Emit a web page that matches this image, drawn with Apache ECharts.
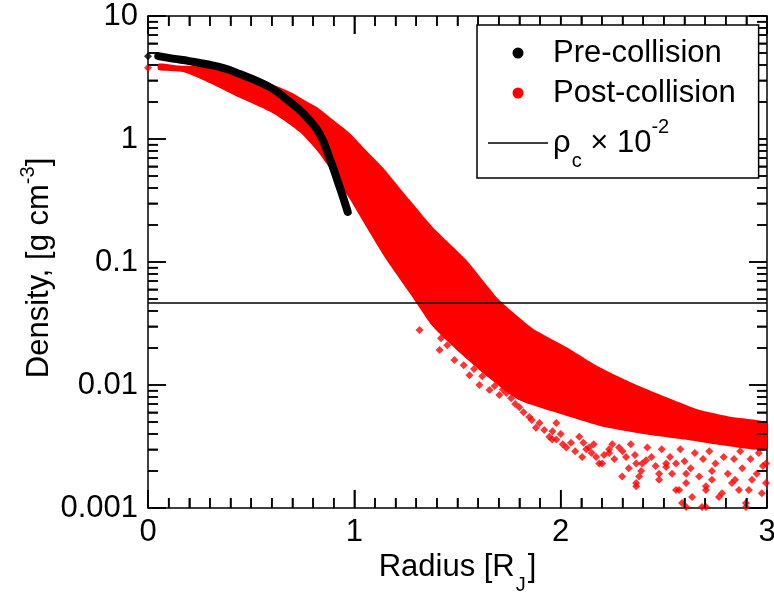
<!DOCTYPE html>
<html>
<head>
<meta charset="utf-8">
<script src="https://cdn.jsdelivr.net/npm/echarts@6/dist/echarts.min.js"></script>
<style>
html,body{margin:0;padding:0;background:#fff;}
#chart{width:774px;height:598px;}
</style>
</head>
<body>
<div id="chart"></div>
<script>
// ---- axis ticks ----
const xTicks = [0, 1, 2, 3];
const xTickLabels = ['0', '1', '2', '3'];
const xMinorTicks = [0.1, 0.2, 0.3, 0.4, 0.5, 0.6, 0.7, 0.8, 0.9, 1.1, 1.2, 1.3, 1.4, 1.5, 1.6, 1.7, 1.8, 1.9, 2.1, 2.2, 2.3, 2.4, 2.5, 2.6, 2.7, 2.8, 2.9];
const yTicks = [0.001, 0.01, 0.1, 1, 10];
const yTickLabels = ['0.001', '0.01', '0.1', '1', '10'];
const yMinorTicks = [0.002, 0.003, 0.004, 0.005, 0.006, 0.007, 0.008, 0.009,
  0.02, 0.03, 0.04, 0.05, 0.06, 0.07, 0.08, 0.09,
  0.2, 0.3, 0.4, 0.5, 0.6, 0.7, 0.8, 0.9,
  2, 3, 4, 5, 6, 7, 8, 9];

// ---- Pre-collision (black) ----
const preCentreR = [0];
const preCentreRho = [4.7];
const preR   = [0.05, 0.12, 0.20, 0.285, 0.37, 0.445, 0.53, 0.605, 0.687, 0.735, 0.77, 0.832, 0.88, 0.92, 0.947, 0.968];
const preRho = [4.72, 4.50, 4.30, 4.05, 3.75, 3.37, 2.95, 2.55, 2.00, 1.72, 1.50, 1.10, 0.70, 0.45, 0.33, 0.255];

// ---- Post-collision (red): dense band envelope ----
const postUpperR   = [0.05, 0.15, 0.285, 0.445, 0.575, 0.70, 0.77, 0.818, 0.90, 0.977, 1.06, 1.137, 1.268, 1.379, 1.543, 1.703, 1.863, 2.027, 2.187, 2.346, 2.51, 2.67, 2.83, 3.0];
const postUpperRho = [4.10, 3.95, 3.85, 3.25, 2.90, 2.37, 2.02, 1.82, 1.42, 1.12, 0.80, 0.59, 0.32, 0.193, 0.104, 0.049, 0.029, 0.0204, 0.014, 0.0104, 0.0080, 0.0063, 0.0055, 0.0049];
const postLowerR   = [0.05, 0.17, 0.285, 0.445, 0.605, 0.735, 0.82, 0.90, 0.98, 1.06, 1.156, 1.268, 1.379, 1.50, 1.65, 1.80, 2.0, 2.2, 2.4, 2.6, 2.8, 3.0];
const postLowerRho = [3.64, 3.50, 2.92, 2.16, 1.62, 1.14, 0.80, 0.52, 0.32, 0.19, 0.104, 0.056, 0.030, 0.019, 0.0115, 0.0075, 0.0058, 0.0046, 0.0040, 0.0036, 0.0032, 0.0030];

// ---- Post-collision (red): individual scattered particles ----
const postScatterR = [0, 1.316, 1.413, 1.42, 1.45, 1.485, 1.509, 1.53, 1.558, 1.58, 1.606, 1.62, 1.655, 1.68, 1.703, 1.72, 1.737, 1.76, 1.78,
  1.80, 1.82, 1.848, 1.86, 1.88, 1.897, 1.92, 1.945, 1.959, 1.96, 1.979, 1.979, 2.0, 2.01, 2.027, 2.05, 2.07,
  2.09, 2.104, 2.11, 2.124, 2.138, 2.15, 2.16, 2.172, 2.187, 2.201, 2.21, 2.235, 2.235, 2.25, 2.26, 2.283, 2.298, 2.30, 2.317, 2.33, 2.34,
  2.36, 2.366, 2.366, 2.366, 2.38, 2.39, 2.395, 2.414, 2.42, 2.44, 2.46,
  2.477, 2.477, 2.49, 2.511, 2.511, 2.53, 2.54, 2.559, 2.559, 2.574, 2.58, 2.588, 2.60, 2.608, 2.608, 2.608, 2.63, 2.637, 2.65, 2.671, 2.685, 2.69,
  2.704, 2.704, 2.704, 2.72, 2.733, 2.733, 2.75, 2.767, 2.782, 2.79, 2.81, 2.83, 2.84, 2.845, 2.864, 2.87, 2.88, 2.898, 2.898, 2.912, 2.92, 2.927,
  2.95, 2.96, 2.975, 2.98, 2.995, 2.995];
const postScatterRho = [3.8, 0.028, 0.0193, 0.024, 0.021, 0.016, 0.023, 0.0145, 0.012, 0.0135, 0.010, 0.0118, 0.0091, 0.0098, 0.0083, 0.0092, 0.0086, 0.0078, 0.0070,
  0.0066, 0.0060, 0.0055, 0.0052, 0.0045, 0.0049, 0.0043, 0.0038, 0.0036, 0.0042, 0.0036, 0.0049, 0.0040, 0.0033, 0.0031, 0.0034, 0.0029,
  0.0038, 0.0026, 0.0034, 0.0030, 0.0031, 0.0028, 0.0033, 0.0026, 0.0023, 0.0023, 0.0027, 0.0030, 0.0028, 0.0033, 0.0025, 0.0031, 0.0018, 0.0029, 0.0026, 0.0021, 0.0033,
  0.0027, 0.0023, 0.0016, 0.0015, 0.0018, 0.0020, 0.0023, 0.00245, 0.0031, 0.0026, 0.0022,
  0.0019, 0.0017, 0.0030, 0.00215, 0.0023, 0.0026, 0.0019, 0.0023, 0.0014, 0.0014, 0.0030, 0.0011, 0.0024, 0.0016, 0.0019, 0.00102, 0.0021, 0.00123, 0.0028, 0.0018, 0.00102, 0.0025,
  0.0014, 0.0015, 0.00102, 0.0029, 0.0017, 0.0020, 0.0023, 0.00123, 0.00132, 0.0026, 0.0019, 0.0016, 0.0025, 0.0017, 0.0014, 0.0029, 0.0021, 0.00102, 0.0011, 0.0014, 0.0025, 0.0017,
  0.0019, 0.0028, 0.00132, 0.0022, 0.0016, 0.0023];

// ---- rho_c x 1e-2 reference line ----
const rhoCLineR = [0, 3];
const rhoCLineRho = [0.0464, 0.0464];

const FONT = 'Arial, "Liberation Sans", sans-serif';
const zip = (a, b) => a.map((v, i) => [v, b[i]]);

function mkAxisLine() { return {show: true, onZero: false, lineStyle: {color: '#000', width: 1.5}}; }
function mkAxisTick() { return {show: true, inside: true, length: 18, lineStyle: {color: '#000', width: 1.5}}; }
function mkMinor(n) { return {show: true, splitNumber: n, length: 10, lineStyle: {color: '#000', width: 1.5}}; }

const xLabelFmt = v => { const i = xTicks.findIndex(t => Math.abs(t - v) < 1e-9); return i >= 0 ? xTickLabels[i] : ''; };
const yLabelFmt = v => { const i = yTicks.findIndex(t => Math.abs(Math.log10(t) - Math.log10(v)) < 1e-6); return i >= 0 ? yTickLabels[i] : ''; };

// inward ticks on all four sides as thin filled rects, positioned through the axes' scales
const X0 = xTicks[0], X1 = xTicks[xTicks.length - 1];
const Y0 = yTicks[0], Y1 = yTicks[yTicks.length - 1];
function makeXTickRender(len) {
  return function (params, api) {
    const px = api.coord([api.value(0), 1])[0];
    const b = api.coord([X0, Y0])[1];
    const t = api.coord([X0, Y1])[1];
    return {type: 'group', children: [
      {type: 'rect', shape: {x: px - 0.75, y: b - len, width: 1.5, height: len}, style: {fill: '#000'}},
      {type: 'rect', shape: {x: px - 0.75, y: t, width: 1.5, height: len}, style: {fill: '#000'}}
    ]};
  };
}
function makeYTickRender(len) {
  return function (params, api) {
    const py = api.coord([1, api.value(1)])[1];
    const l = api.coord([X0, Y0])[0];
    const r = api.coord([X1, Y0])[0];
    return {type: 'group', children: [
      {type: 'rect', shape: {x: l, y: py - 0.75, width: len, height: 1.5}, style: {fill: '#000'}},
      {type: 'rect', shape: {x: r - len, y: py - 0.75, width: len, height: 1.5}, style: {fill: '#000'}}
    ]};
  };
}
function tickSeries(name, data, render) {
  return {name: name, type: 'custom', coordinateSystem: 'cartesian2d', xAxisIndex: 0, yAxisIndex: 0,
    clip: false, silent: true, z: 3, renderItem: render, data: data};
}

const chart = echarts.init(document.getElementById('chart'));

const option = {
  animation: false,
  backgroundColor: '#fff',
  grid: {left: 148, right: 7, top: 16, bottom: 90, outerBoundsMode: 'none'},
  legend: {
    show: true,
    orient: 'vertical',
    left: 477,
    top: 25,
    padding: [10, 23, 7, 11],
    itemGap: 4,
    itemWidth: 60,
    itemHeight: 11,
    selectedMode: false,
    backgroundColor: '#fff',
    borderColor: '#000',
    borderWidth: 1.5,
    borderRadius: 0,
    z: 10,
    data: [
      {name: 'Pre-collision', icon: 'circle', itemStyle: {color: '#000'}},
      {name: 'Post-collision', icon: 'circle', itemStyle: {color: '#ff0000'}},
      {name: 'rhoC', icon: 'path://M0,0L60,0L60,1.4L0,1.4Z', itemStyle: {color: '#000'}}
    ],
    formatter: function (n) {
      return n === 'rhoC' ? '{m|\u03c1}{sub|c}{m| \u00d7 10}{sup|-2}' : n;
    },
    textStyle: {
      fontFamily: FONT, fontSize: 31, lineHeight: 36, color: '#000',
      rich: {
        m: {fontFamily: FONT, fontSize: 31, lineHeight: 56, color: '#000'},
        sub: {fontFamily: FONT, fontSize: 20, color: '#000', padding: [36, 0, 0, 1]},
        sup: {fontFamily: FONT, fontSize: 20, color: '#000', padding: [0, 0, 31, 0]}
      }
    }
  },
  xAxis: [
    {
      type: 'value', min: 0, max: 3, interval: 1, position: 'bottom',
      axisLine: mkAxisLine(), axisTick: mkAxisTick(), minorTick: mkMinor(10),
      splitLine: {show: false},
      axisLabel: {show: true, fontFamily: FONT, fontSize: 31, color: '#000', margin: 9, formatter: xLabelFmt},
      name: '{t|Radius [R}{sub|J}{t|]}',
      nameLocation: 'middle', nameGap: 31, nameMoveOverlap: false,
      nameTextStyle: {
        fontFamily: FONT, fontSize: 31, color: '#000',
        rich: {
          t: {fontFamily: FONT, fontSize: 31, color: '#000'},
          sub: {fontFamily: FONT, fontSize: 20, color: '#000', padding: [36, 2, 0, 1]}
        }
      }
    },
    {
      type: 'value', min: 0, max: 3, interval: 1, position: 'top',
      axisLine: mkAxisLine(), axisTick: mkAxisTick(), minorTick: mkMinor(10),
      splitLine: {show: false},
      axisLabel: {show: false}
    }
  ],
  yAxis: [
    {
      type: 'log', logBase: 10, min: 0.001, max: 10, position: 'left',
      axisLine: mkAxisLine(), axisTick: mkAxisTick(), minorTick: mkMinor(9),
      splitLine: {show: false},
      axisLabel: {show: true, fontFamily: FONT, fontSize: 31, color: '#000', margin: 10, formatter: yLabelFmt},
      name: '{t|Density, [g cm}{sup|-3}{t|]}',
      nameLocation: 'middle', nameRotate: 90, nameGap: 87, nameMoveOverlap: false,
      nameTextStyle: {
        fontFamily: FONT, fontSize: 31, color: '#000', padding: [0, 12, 0, 0],
        rich: {
          t: {fontFamily: FONT, fontSize: 31, color: '#000'},
          sup: {fontFamily: FONT, fontSize: 20, color: '#000', padding: [0, 0, 23, 0]}
        }
      }
    },
    {
      type: 'log', logBase: 10, min: 0.001, max: 10, position: 'right',
      axisLine: mkAxisLine(), axisTick: mkAxisTick(), minorTick: mkMinor(9),
      splitLine: {show: false},
      axisLabel: {show: false}
    }
  ],
  series: [
    {
      name: 'Post-collision',
      type: 'custom',
      coordinateSystem: 'cartesian2d',
      xAxisIndex: 0, yAxisIndex: 0,
      clip: true,
      silent: true,
      itemStyle: {color: '#ff0000'},
      data: [[postUpperR[0], postUpperRho[0]]],
      renderItem: function (params, api) {
        const up = zip(postUpperR, postUpperRho).map(p => api.coord(p));
        const lo = zip(postLowerR, postLowerRho).reverse().map(p => api.coord(p));
        return {type: 'polygon', shape: {points: up.concat(lo), smooth: 0.2}, style: {fill: '#ff0000'}};
      }
    },
    {
      name: 'Post-collision',
      type: 'scatter',
      xAxisIndex: 0, yAxisIndex: 0,
      symbol: 'diamond', symbolSize: 8,
      itemStyle: {color: '#ff0000'},
      silent: true,
      data: zip(postScatterR, postScatterRho)
    },
    {
      name: 'Pre-collision',
      type: 'line',
      xAxisIndex: 0, yAxisIndex: 0,
      smooth: true,
      showSymbol: false, symbol: 'none',
      lineStyle: {color: '#000', width: 8, cap: 'round', join: 'round'},
      itemStyle: {color: '#000'},
      silent: true,
      data: zip(preR, preRho)
    },
    {
      name: 'Pre-collision',
      type: 'scatter',
      xAxisIndex: 0, yAxisIndex: 0,
      symbol: 'diamond', symbolSize: 8,
      itemStyle: {color: '#000'},
      silent: true,
      data: zip(preCentreR, preCentreRho)
    },
    {
      name: 'rhoC',
      type: 'line',
      xAxisIndex: 0, yAxisIndex: 0,
      showSymbol: false, symbol: 'none',
      lineStyle: {color: '#000', width: 1.5},
      itemStyle: {color: '#000'},
      silent: true,
      data: zip(rhoCLineR, rhoCLineRho)
    },
    tickSeries('_xMajor', xTicks.map(v => [v, 1]), makeXTickRender(18)),
    tickSeries('_xMinor', xMinorTicks.map(v => [v, 1]), makeXTickRender(10)),
    tickSeries('_yMajor', yTicks.map(v => [1, v]), makeYTickRender(18)),
    tickSeries('_yMinor', yMinorTicks.map(v => [1, v]), makeYTickRender(10))
  ]
};
chart.setOption(option);
</script>
</body>
</html>
